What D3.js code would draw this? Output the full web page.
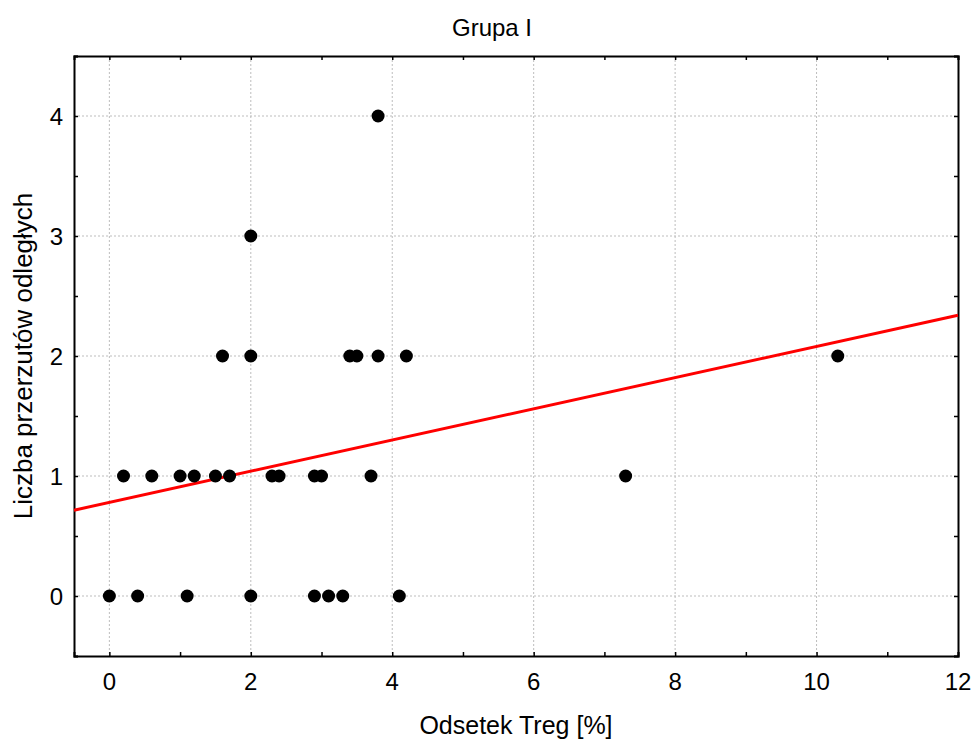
<!DOCTYPE html>
<html>
<head>
<meta charset="utf-8">
<script src="https://cdn.jsdelivr.net/npm/d3@7"></script>
<style>
  body { margin: 0; background: #fff; }
  text { font-family: "Liberation Sans", Arial, sans-serif; fill: #000; }
</style>
</head>
<body>
<div id="chart"></div>
<script>
// Dane
var title = "Grupa I";
var xLabel = "Odsetek Treg [%]";
var yLabel = "Liczba przerzutów odległych";

var tregX = [0.2, 0.6, 1.0, 1.2, 1.5, 1.7, 2.3, 2.4, 2.9, 3.0, 3.7, 7.3,
             0.0, 0.4, 1.1, 2.0, 2.9, 3.1, 3.3, 4.1,
             1.6, 2.0, 3.4, 3.5, 3.8, 4.2, 10.3,
             2.0, 3.8];
var przerzutyY = [1, 1, 1, 1, 1, 1, 1, 1, 1, 1, 1, 1,
                  0, 0, 0, 0, 0, 0, 0, 0,
                  2, 2, 2, 2, 2, 2, 2,
                  3, 4];

var xTicks = [0, 2, 4, 6, 8, 10, 12];
var yTicks = [0, 1, 2, 3, 4];

// prosta regresji (odczytana)
var intercept = 0.78;
var slope = 0.13;

var width = 975;
var height = 740;
var margin = { top: 56, right: 17, bottom: 84, left: 74 };

var svg = d3.select("#chart")
    .append("svg")
    .attr("width", width)
    .attr("height", height);

var x = d3.scaleLinear().domain([-0.5, 12]).range([margin.left, width - margin.right]);
var y = d3.scaleLinear().domain([-0.5, 4.5]).range([height - margin.bottom, margin.top]);

var data = tregX.map(function (d, i) { return { x: d, y: przerzutyY[i] }; });

// Siatka
svg.append("g")
    .selectAll("line")
    .data(xTicks.filter(function (d) { return d < 12; }))
    .enter().append("line")
    .attr("x1", function (d) { return x(d); })
    .attr("x2", function (d) { return x(d); })
    .attr("y1", y(4.5))
    .attr("y2", y(-0.5))
    .attr("stroke", "#bdbdbd")
    .attr("stroke-dasharray", "2,2");

svg.append("g")
    .selectAll("line")
    .data(yTicks)
    .enter().append("line")
    .attr("x1", x(-0.5))
    .attr("x2", x(12))
    .attr("y1", function (d) { return y(d); })
    .attr("y2", function (d) { return y(d); })
    .attr("stroke", "#bdbdbd")
    .attr("stroke-dasharray", "2,2");

// Osie (ticki do wewnątrz)
var xMinor = d3.range(0, 13, 1);
var yMinor = d3.range(-0.5, 4.51, 0.5);

svg.append("g")
    .attr("transform", "translate(0," + y(-0.5) + ")")
    .call(d3.axisBottom(x).tickValues(xMinor).tickSize(-4).tickFormat(""));

svg.append("g")
    .attr("transform", "translate(0," + y(4.5) + ")")
    .call(d3.axisTop(x).tickValues(xMinor).tickSize(-4).tickFormat(""));

svg.append("g")
    .attr("transform", "translate(" + x(-0.5) + ",0)")
    .call(d3.axisLeft(y).tickValues(yMinor).tickSize(-4).tickFormat(""));

svg.append("g")
    .attr("transform", "translate(" + x(12) + ",0)")
    .call(d3.axisRight(y).tickValues(yMinor).tickSize(-4).tickFormat(""));

svg.selectAll(".domain").attr("stroke", "#000").attr("stroke-width", 2);
svg.selectAll(".tick line").attr("stroke", "#000").attr("stroke-width", 1.5);

// Etykiety ticków
svg.append("g")
    .selectAll("text")
    .data(xTicks)
    .enter().append("text")
    .attr("x", function (d) { return x(d); })
    .attr("y", y(-0.5) + 34)
    .attr("text-anchor", "middle")
    .style("font-size", "24px")
    .text(function (d) { return d; });

svg.append("g")
    .selectAll("text")
    .data(yTicks)
    .enter().append("text")
    .attr("x", x(-0.5) - 11)
    .attr("y", function (d) { return y(d); })
    .attr("dy", "0.37em")
    .attr("text-anchor", "end")
    .style("font-size", "24px")
    .text(function (d) { return d; });

// Linia regresji
svg.append("line")
    .attr("x1", x(-0.5))
    .attr("y1", y(intercept + slope * -0.5))
    .attr("x2", x(12))
    .attr("y2", y(intercept + slope * 12))
    .attr("stroke", "#ff0000")
    .attr("stroke-width", 3);

// Punkty
svg.append("g")
    .selectAll("circle")
    .data(data)
    .enter().append("circle")
    .attr("cx", function (d) { return x(d.x); })
    .attr("cy", function (d) { return y(d.y); })
    .attr("r", 6.5)
    .attr("fill", "#000");

// Tytuł i opisy osi
svg.append("text")
    .attr("x", 492)
    .attr("y", 36)
    .attr("text-anchor", "middle")
    .style("font-size", "24px")
    .text(title);

svg.append("text")
    .attr("x", (x(-0.5) + x(12)) / 2)
    .attr("y", 734)
    .attr("text-anchor", "middle")
    .style("font-size", "25px")
    .text(xLabel);

svg.append("text")
    .attr("transform", "rotate(-90)")
    .attr("x", -(y(-0.5) + y(4.5)) / 2)
    .attr("y", 32)
    .attr("text-anchor", "middle")
    .style("font-size", "26px")
    .text(yLabel);
</script>
</body>
</html>
